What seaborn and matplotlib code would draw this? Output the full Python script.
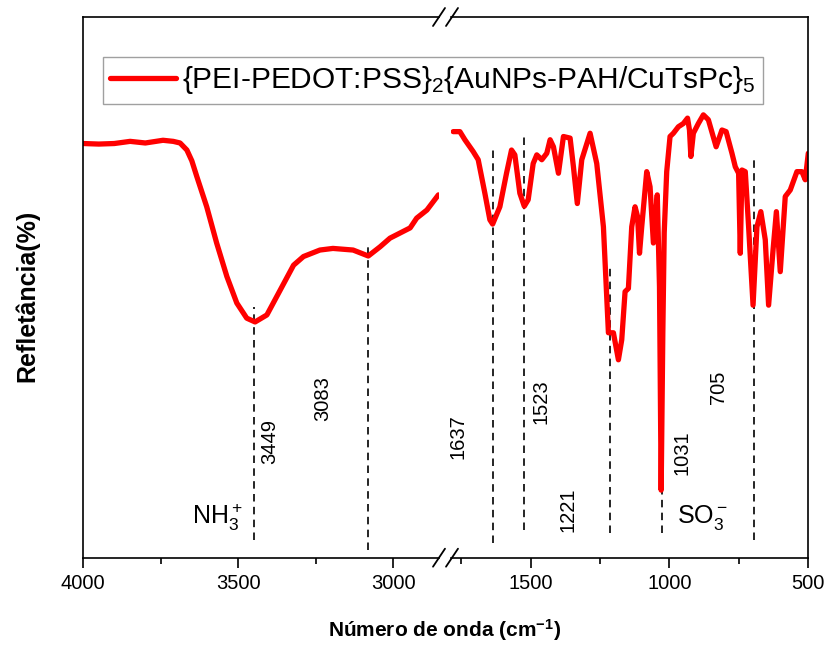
import matplotlib
matplotlib.use('Agg')
import numpy as np
import pandas as pd
import matplotlib.pyplot as plt
import seaborn as sns
from matplotlib.lines import Line2D

# ---------------- data ----------------
wn_high = [4000, 3950, 3900, 3849, 3800, 3743, 3710, 3688, 3666, 3650, 3634, 3602, 3570,
           3537, 3505, 3473, 3446, 3408, 3365, 3322, 3290, 3237, 3195, 3130, 3081,
           3043, 3011, 2946, 2925, 2892, 2855]
refl_high = [76.6, 76.5, 76.6, 77.0, 76.7, 77.2, 77.0, 76.7, 75.4, 73.4, 70.5, 64.9, 58.2,
             52.0, 47.1, 44.3, 43.6, 44.9, 49.5, 54.1, 55.7, 56.9, 57.2, 56.9, 55.8,
             57.5, 59.1, 61.0, 62.8, 64.3, 67.1]

wn_low = [1779, 1755, 1737, 1707, 1689, 1665, 1647, 1637, 1611, 1587, 1569, 1557,
          1539, 1523, 1509, 1491, 1478, 1460, 1442, 1430, 1418, 1400, 1382, 1358,
          1346, 1332, 1316, 1286, 1262, 1238, 1220, 1202, 1184, 1172, 1160, 1148,
          1136, 1124, 1115, 1108, 1100, 1082, 1070, 1058, 1044, 1036, 1030, 1024,
          1019, 1010, 998, 986, 968, 950, 935, 928, 923, 914, 896, 878, 860, 832,
          811, 796, 775, 763, 751, 745, 739, 727, 715, 699, 685, 671, 655, 643,
          627, 615, 601, 583, 565, 541, 523, 511, 500]
refl_low = [78.8, 78.8, 77.3, 75.1, 73.6, 67.4, 62.5, 61.7, 64.9, 71.1, 75.4, 74.5,
            67.4, 65.0, 66.2, 72.9, 74.5, 73.6, 74.8, 77.3, 76.0, 71.1, 77.9, 77.6,
            72.3, 65.5, 73.6, 78.5, 72.9, 61.2, 41.6, 41.6, 36.6, 40.3, 49.2, 49.8,
            61.2, 64.9, 63.1, 56.3, 61.2, 71.4, 68.6, 58.2, 67.1, 50.1, 12.5, 41.6,
            60.1, 71.4, 77.9, 78.5, 79.7, 80.3, 81.3, 79.1, 74.2, 78.5, 80.3, 81.9,
            81.0, 76.0, 79.1, 78.8, 74.8, 72.3, 71.1, 56.3, 71.7, 71.4, 61.2, 46.7,
            61.2, 64.0, 58.8, 46.7, 56.9, 64.0, 52.9, 66.8, 68.0, 71.4, 71.4, 69.9, 74.8]

series_name = r'{PEI-PEDOT:PSS}$_2${AuNPs-PAH/CuTsPc}$_5$'

peak_pos = [3449, 3083, 1637, 1523, 1216, 1028, 697]
peak_top = [46.3, 58.4, 75.4, 77.8, 54.1, 54.1, 73.9]
peak_bottom = [3.3, 1.4, 2.7, 5.1, 4.6, 4.6, 3.3]
peak_labels = ['3449', '3083', '1637', '1523', '1221', '1031', '705']
label_x = [3398, 3227, 1762, 1463, 1365, 955, 825]
label_y = [21.5, 29.5, 22.3, 28.8, 8.8, 19.4, 31.6]

group_labels = [r'NH$_3^+$', r'SO$_3^-$']
group_x = [3568, 881]
group_y = [7.5, 7.4]

# ---------------- style ----------------
sns.set_style('ticks')
plt.rcParams['font.family'] = ['Liberation Sans', 'DejaVu Sans']
plt.rcParams['mathtext.fontset'] = 'custom'
plt.rcParams['mathtext.rm'] = 'Liberation Sans'
plt.rcParams['mathtext.it'] = 'Liberation Sans:italic'
plt.rcParams['mathtext.bf'] = 'Liberation Sans:bold'
plt.rcParams['text.color'] = 'black'
plt.rcParams['xtick.color'] = 'black'
plt.rcParams['axes.labelcolor'] = 'black'

W, H = 830, 648
fig = plt.figure(figsize=(W / 100, H / 100), dpi=100)
y0, y1 = 557.7, 17.0
axL = fig.add_axes([83.3 / W, 1 - y0 / H, (439 - 83.3) / W, (y0 - y1) / H])
axR = fig.add_axes([451 / W, 1 - y0 / H, (808.3 - 451) / W, (y0 - y1) / H])

df_high = pd.DataFrame({'wn': wn_high, 'refl': refl_high})
df_low = pd.DataFrame({'wn': wn_low, 'refl': refl_low})
red = '#ff0000'
sns.lineplot(data=df_high, x='wn', y='refl', ax=axL, color=red, lw=3.8, sort=False,
             estimator=None, legend=False)
sns.lineplot(data=df_low, x='wn', y='refl', ax=axR, color=red, lw=3.8, sort=False,
             estimator=None, legend=False)

axL.set_xlim(4000, 2853)
axR.set_xlim(1787, 500)
for ax in (axL, axR):
    ax.set_ylim(0, 100)
    ax.set_yticks([])
    ax.set_xlabel('')
    ax.set_ylabel('')
    for s in ax.spines.values():
        s.set_linewidth(1.2)
        s.set_color('black')
    ax.tick_params(axis='x', which='major', direction='out', length=7, width=1.2,
                   labelsize=14.5, pad=5, colors='black')
    ax.tick_params(axis='x', which='minor', direction='out', length=4, width=1.2)
    ax.tick_params(axis='y', left=False, right=False)

axL.spines['right'].set_visible(False)
axR.spines['left'].set_visible(False)
axL.set_xticks([4000, 3500, 3000])
axL.set_xticks([3750, 3250], minor=True)
axR.set_xticks([1500, 1000, 500])
axR.set_xticks([1750, 1250, 750], minor=True)

# dashed peak markers + labels
for pos, top, bot, lab, lx, ly in zip(peak_pos, peak_top, peak_bottom, peak_labels, label_x, label_y):
    ax = axL if pos > 2000 else axR
    ax.plot([pos, pos], [bot, top], color='black', lw=1.2, dashes=(4.5, 3.2), zorder=1)
    ax.text(lx, ly, lab, rotation=90, ha='center', va='center', fontsize=14.5)

for lab, gx, gy in zip(group_labels, group_x, group_y):
    ax = axL if gx > 2000 else axR
    ax.text(gx, gy, lab, ha='center', va='center', fontsize=18)

# axis-break marks
for yc in (y0, y1):
    for xc in (439, 452):
        fig.add_artist(Line2D([(xc - 6) / W, (xc + 6) / W],
                              [1 - (yc + 9) / H, 1 - (yc - 9) / H],
                              color='black', lw=1.3, transform=fig.transFigure))

# legend
handle = Line2D([], [], color=red, lw=3.8)
leg = fig.legend([handle], [series_name], loc='upper left',
                 bbox_to_anchor=(103 / W, 1 - 57 / H), fontsize=21.5,
                 frameon=True, fancybox=False, edgecolor='#888888',
                 handlelength=2.2, handletextpad=0.2, borderpad=0.25,
                 borderaxespad=0)
leg.get_frame().set_linewidth(1.0)

fig.text(445 / W, 1 - 630 / H, r'Número de onda (cm$^{\mathbf{-1}}$)', ha='center',
         va='center', fontsize=15, fontweight='bold')
fig.text(27 / W, 1 - 296 / H, 'Refletância(%)', rotation=90, ha='center',
         va='center', fontsize=18, fontweight='bold')

fig.savefig('out.png', dpi=100)
